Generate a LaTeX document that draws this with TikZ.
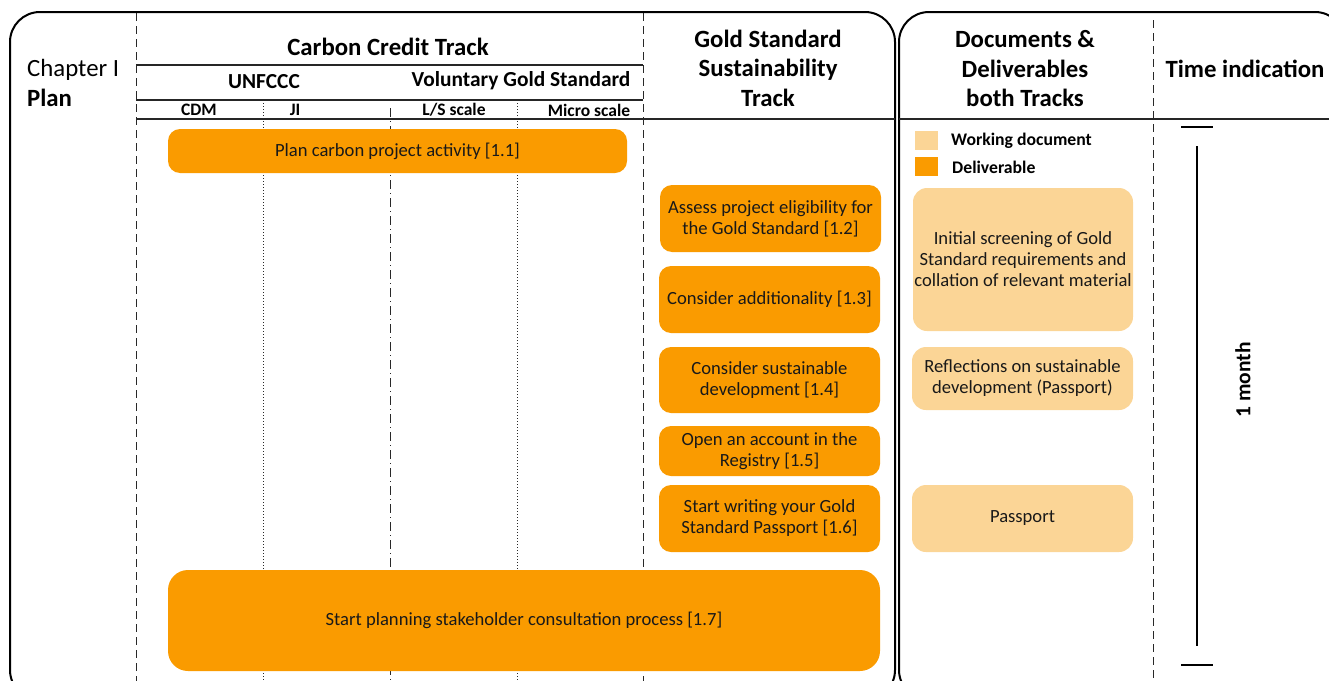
\documentclass[tikz,border=0pt]{standalone}
\usepackage{fontspec}
\setmainfont{Carlito}
\definecolor{deliv}{RGB}{250,155,0}
\definecolor{workdoc}{RGB}{251,213,150}
\definecolor{dashc}{RGB}{40,40,40}
\tikzset{
  frame/.style={draw=black,line width=2pt,rounded corners=30pt},
  colsep/.style={draw=dashc,line width=1pt,dash pattern=on 8pt off 5pt},
  subsep/.style={draw=dashc,line width=0.8pt,dash pattern=on 1pt off 2pt},
  mixsep/.style={draw=dashc,line width=0.9pt,dash pattern=on 9pt off 4pt on 1pt off 4pt},
  hline/.style={draw=black!85,line width=1.3pt},
  delivbox/.style={fill=deliv,draw=none,rounded corners=12pt,inner sep=0pt,align=center,
     font=\fontsize{18.6}{21}\selectfont,text=black!90},
  workbox/.style={fill=workdoc,draw=none,rounded corners=14pt,inner sep=0pt,align=center,
     font=\fontsize{18.6}{21}\selectfont,text=black!90},
  head/.style={font=\bfseries\fontsize{24.8}{29.5}\selectfont,align=center,inner sep=0pt},
  subhead/.style={font=\bfseries\fontsize{21.4}{24}\selectfont,inner sep=0pt},
  smallhead/.style={font=\bfseries\fontsize{17.5}{20}\selectfont,inner sep=0pt},
  legend/.style={font=\bfseries\fontsize{17.7}{20}\selectfont,inner sep=0pt,anchor=west},
  timebar/.style={draw=black,line width=1.5pt}
}
\begin{document}
\begin{tikzpicture}[x=1pt,y=-1pt]
\useasboundingbox (0,0) rectangle (1329,680);
% frames
\draw[frame] (10,12) rectangle (895,700);
\draw[frame] (899,12) rectangle (1345,700);
% header lines
\coordinate (h1l) at (136,65); \coordinate (h1r) at (643,65);
\coordinate (h2l) at (136,100); \coordinate (h2r) at (643,100);
\coordinate (h3l) at (136,119); \coordinate (h3r) at (895,119);
\coordinate (h4l) at (899,119); \coordinate (h4r) at (1345,119);
\draw[hline] (h1l) -- (h1r);
\draw[hline] (h2l) -- (h2r);
\draw[hline] (h3l) -- (h3r);
\draw[hline] (h4l) -- (h4r);
% column separators
\coordinate (c1t) at (136,13); \coordinate (c1b) at (136,690);
\coordinate (c2t) at (643,13); \coordinate (c2b) at (643,690);
\coordinate (c3t) at (263,100); \coordinate (c3b) at (263,690);
\coordinate (c4t) at (390,108); \coordinate (c4b) at (390,690);
\coordinate (c5t) at (517,100); \coordinate (c5b) at (517,690);
\coordinate (c6t) at (1153,20); \coordinate (c6b) at (1153,690);
\draw[colsep] (c1t) -- (c1b);
\draw[colsep] (c2t) -- (c2b);
\draw[subsep] (c3t) -- (c3b);
\draw[mixsep] (c4t) -- (c4b);
\draw[subsep] (c5t) -- (c5b);
\draw[colsep] (c6t) -- (c6b);
% left labels
\node[anchor=west,inner sep=0pt,font=\fontsize{24.8}{28}\selectfont] (chap) at (27,70) {Chapter I};
\node[anchor=west,inner sep=0pt,font=\bfseries\fontsize{24.8}{28}\selectfont] (plan) at (27,98) {Plan};
% headers
\node[head] (cct) at (388,47) {Carbon Credit Track};
\node[subhead] (unf) at (264,82) {UNFCCC};
\node[subhead] (vgs) at (521,81) {Voluntary Gold Standard};
\node[smallhead] (cdm) at (199,110) {CDM};
\node[smallhead] (ji) at (295,110) {JI};
\node[smallhead] (ls) at (454,110) {L/S scale};
\node[smallhead] (micro) at (589,110) {Micro scale};
\node[head] (gst) at (768,68) {Gold Standard\\Sustainability\\Track};
\node[head] (dd) at (1025,69) {Documents \&\\Deliverables\\both Tracks};
\node[head] (ti) at (1245,69) {Time indication};
% legend
\node[fill=workdoc,minimum width=23pt,minimum height=19pt,inner sep=0pt] (lw) at (926.5,140.5) {};
\node[fill=deliv,minimum width=23pt,minimum height=19pt,inner sep=0pt] (ld) at (926.5,166.5) {};
\node[legend] (lwt) at (951,141) {Working document};
\node[legend] (ldt) at (952,167) {Deliverable};
% deliverable boxes
\node[delivbox,minimum width=459pt,minimum height=44pt] (n11) at (397.5,151) {Plan carbon project activity [1.1]};
\node[delivbox,minimum width=221pt,minimum height=67pt] (n12) at (770.5,218.5) {Assess project eligibility for\\the Gold Standard [1.2]};
\node[delivbox,minimum width=221pt,minimum height=67pt] (n13) at (769.5,299.5) {Consider additionality [1.3]};
\node[delivbox,minimum width=221pt,minimum height=66pt] (n14) at (769.5,380) {Consider sustainable\\development [1.4]};
\node[delivbox,minimum width=221pt,minimum height=50pt] (n15) at (769.5,451) {Open an account in the\\Registry [1.5]};
\node[delivbox,minimum width=221pt,minimum height=67pt] (n16) at (769.5,518.5) {Start writing your Gold\\Standard Passport [1.6]};
\node[delivbox,rounded corners=20pt,minimum width=712pt,minimum height=101pt] (n17) at (524,620.5) {Start planning stakeholder consultation process [1.7]};
% working documents
\node[workbox,minimum width=220pt,minimum height=143pt] (w1) at (1023,259.5) {Initial screening of Gold\\Standard requirements and\\collation of relevant material};
\node[workbox,minimum width=221pt,minimum height=63pt] (w2) at (1022.5,378.5) {Reflections on sustainable\\development (Passport)};
\node[workbox,minimum width=221pt,minimum height=67pt] (w3) at (1022.5,518.5) {Passport};
% time bar
\coordinate (tt1) at (1181,127); \coordinate (tt2) at (1213,127);
\coordinate (tv1) at (1197,146); \coordinate (tv2) at (1197,646);
\coordinate (tb1) at (1181,665); \coordinate (tb2) at (1213,665);
\draw[timebar] (tt1) -- (tt2);
\draw[timebar] (tv1) -- (tv2);
\draw[timebar] (tb1) -- (tb2);
\node[rotate=90,inner sep=0pt,font=\bfseries\fontsize{21.5}{24}\selectfont] (month) at (1243,380) {1 month};
\end{tikzpicture}
\end{document}
